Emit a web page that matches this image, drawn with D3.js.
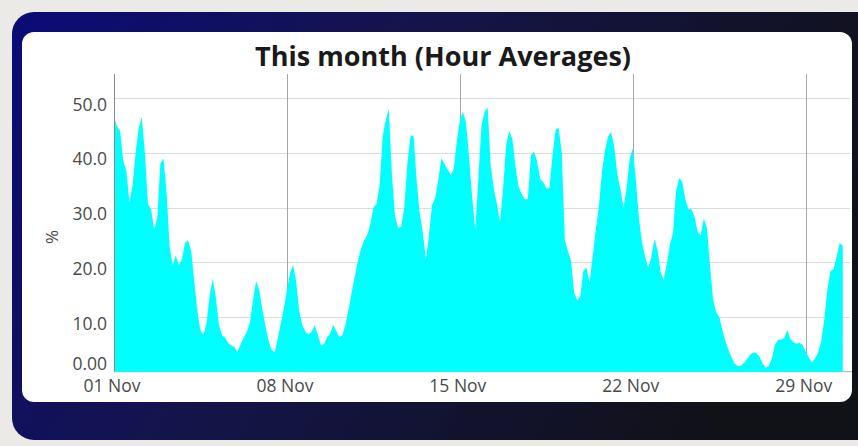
<!DOCTYPE html>
<html>
<head>
<meta charset="utf-8">
<script src="https://cdn.jsdelivr.net/npm/d3@7"></script>
<style>
  html, body { margin: 0; padding: 0; background: #ebeae6; }
  svg { display: block; }
</style>
</head>
<body>
<svg id="chart" width="858" height="446"></svg>
<script>
// ---- data ----
const chartTitle = "This month (Hour Averages)";
const yAxisLabel = "%";
const seriesStart = Date.UTC(2023, 10, 1, 0, 0); // 01 Nov
const stepHours = 3;
const seriesValues = [
  46.5, 44.8, 44, 38.5, 36.7, 31, 34, 40, 44.5, 46.5,
  40, 30.6, 29.7, 26, 28, 38, 39, 33, 23, 19.5,
  21.2, 19.5, 20.5, 23.5, 24, 22, 16.5, 11, 7.5, 6.8,
  9, 14, 17, 13.5, 8.5, 6.6, 6.2, 5.2, 4.8, 4.5,
  3.6, 5, 6.2, 7.2, 9, 13, 16.5, 15, 11.5, 8.5,
  5.8, 4, 3.5, 6, 8.8, 11.5, 15, 18, 19.5, 16.5,
  11, 8.5, 7.3, 6.8, 7.3, 8.5, 6.8, 4.9, 5, 6.3,
  7, 8.6, 7.4, 6.3, 6.7, 8.7, 11.5, 14.5, 17.5, 20.3,
  22.5, 24, 25, 27, 30, 30.6, 34, 43, 46, 48,
  36, 28.5, 26.3, 26.5, 30, 38, 43, 43.2, 35, 29,
  25.5, 20.5, 25, 30.5, 31.7, 35, 39, 38, 37, 36,
  37, 42, 46, 47.5, 45.5, 39, 31.8, 26, 35.5, 45,
  47.5, 48.3, 37.5, 33.5, 30.6, 27.3, 33.5, 41.5, 44, 42.5,
  37.5, 33.8, 32.5, 31.5, 31.5, 39.5, 40.2, 38.5, 35.2, 34.6,
  33.5, 33.5, 39.5, 44.2, 44.6, 40, 24, 22, 20.3, 14.5,
  13, 13.8, 18.5, 19, 16.3, 21, 26, 30, 36.5, 40.5,
  43, 43.8, 41, 36, 33.4, 30, 33.5, 39, 40.8, 35,
  28, 23.5, 21, 19, 21, 24.2, 22.3, 18.2, 16.8, 19.6,
  23.2, 25.3, 33, 35.4, 34.7, 31.5, 29.7, 29.7, 28.3, 25.5,
  25, 28, 26.3, 19.4, 13.2, 10.8, 10, 7.6, 5.6, 3.9,
  2.6, 1.5, 1, 1.1, 1.6, 2.3, 3.1, 3.5, 3.4, 2.8,
  1.6, 0.7, 1, 2.3, 4.9, 5.8, 5.9, 6.1, 7.6, 6,
  5.4, 5.1, 5.3, 4.9, 3.7, 2.6, 1.7, 2.4, 3.5, 5.5,
  9.5, 15, 18.4, 18.7, 21, 23.5, 23
];
const yTickValues = [0, 10, 20, 30, 40, 50];
const yTickLabels = ["0.00", "10.0", "20.0", "30.0", "40.0", "50.0"];
const xTickDates = [Date.UTC(2023,10,1), Date.UTC(2023,10,8), Date.UTC(2023,10,15), Date.UTC(2023,10,22), Date.UTC(2023,10,29)];
const xTickLabels = ["01 Nov", "08 Nov", "15 Nov", "22 Nov", "29 Nov"];
const xDomainEnd = Date.UTC(2023, 10, 30, 19, 0);
const yDomainMax = 54.4;

// ---- drawing ----
const svg = d3.select("#chart");
const data = seriesValues.map((v, i) => ({ t: new Date(seriesStart + i * stepHours * 3600e3), v }));

const plot = { left: 114, right: 850, top: 74, bottom: 371.7 };
const x = d3.scaleUtc().domain([new Date(seriesStart), new Date(xDomainEnd)]).range([plot.left, plot.right]);
const y = d3.scaleLinear().domain([0, yDomainMax]).range([plot.bottom, plot.top]);

// frame
const defs = svg.append("defs");
const g1 = defs.append("linearGradient").attr("id", "frameGrad").attr("x1", "0").attr("x2", "1").attr("y1", "0").attr("y2", "0.3");
g1.append("stop").attr("offset", "0").attr("stop-color", "#0b0b78");
g1.append("stop").attr("offset", "0.45").attr("stop-color", "#14144a");
g1.append("stop").attr("offset", "1").attr("stop-color", "#111118");

svg.append("rect").attr("x", 12).attr("y", 12).attr("width", 870).attr("height", 428)
  .attr("rx", 22).attr("fill", "url(#frameGrad)");
svg.append("rect").attr("x", 22).attr("y", 32).attr("width", 830).attr("height", 370)
  .attr("rx", 12).attr("fill", "#ffffff");

// title
svg.append("text").attr("x", 443).attr("y", 66).attr("text-anchor", "middle")
  .attr("font-family", "Open Sans, sans-serif").attr("font-weight", 700).attr("font-size", 26)
  .attr("fill", "#1a1a1a").attr("textLength", 376).attr("lengthAdjust", "spacingAndGlyphs")
  .text(chartTitle);

// horizontal gridlines
svg.append("g").selectAll("line").data(yTickValues.filter(d => d > 0)).join("line")
  .attr("x1", plot.left).attr("x2", plot.right)
  .attr("y1", d => Math.round(y(d)) + 0.5).attr("y2", d => Math.round(y(d)) + 0.5)
  .attr("stroke", "#dcdcdc").attr("stroke-width", 1);

// vertical gridlines
svg.append("g").selectAll("line").data(xTickDates.slice(1)).join("line")
  .attr("x1", d => Math.round(x(new Date(d))) + 0.5).attr("x2", d => Math.round(x(new Date(d))) + 0.5)
  .attr("y1", plot.top).attr("y2", plot.bottom)
  .attr("stroke", "#a8a8a8").attr("stroke-width", 1);

// x baseline
svg.append("line").attr("x1", plot.left).attr("x2", plot.right + 2)
  .attr("y1", plot.bottom).attr("y2", plot.bottom).attr("stroke", "#b0b0b0");

// area
const area = d3.area().x(d => x(d.t)).y0(y(0)).y1(d => y(d.v));
svg.append("path").datum(data).attr("d", area).attr("fill", "#00ffff");

// y axis line
svg.append("line").attr("x1", plot.left + 0.5).attr("x2", plot.left + 0.5)
  .attr("y1", plot.top).attr("y2", plot.bottom).attr("stroke", "#8a8a8a");

// y tick labels
svg.append("g").selectAll("text").data(yTickValues).join("text")
  .attr("x", 107).attr("y", (d) => d === 0 ? y(d) - 6 : y(d) + 8)
  .attr("dominant-baseline", "middle").attr("text-anchor", "end")
  .attr("font-family", "Open Sans, sans-serif").attr("font-size", 17.5).attr("fill", "#4a4a4a")
  .text((d, i) => yTickLabels[i]);

// x tick labels
svg.append("g").selectAll("text").data(xTickDates).join("text")
  .attr("x", d => x(new Date(d)) - 2).attr("y", 387)
  .attr("dominant-baseline", "middle").attr("text-anchor", "middle")
  .attr("font-family", "Open Sans, sans-serif").attr("font-size", 17.5).attr("fill", "#4a4a4a")
  .text((d, i) => xTickLabels[i]);

// y axis title
svg.append("text").attr("transform", "translate(53,237) rotate(-90)")
  .attr("text-anchor", "middle").attr("dominant-baseline", "middle")
  .attr("font-family", "Open Sans, sans-serif").attr("font-size", 17).attr("fill", "#4a4a4a")
  .text(yAxisLabel);
</script>
</body>
</html>
